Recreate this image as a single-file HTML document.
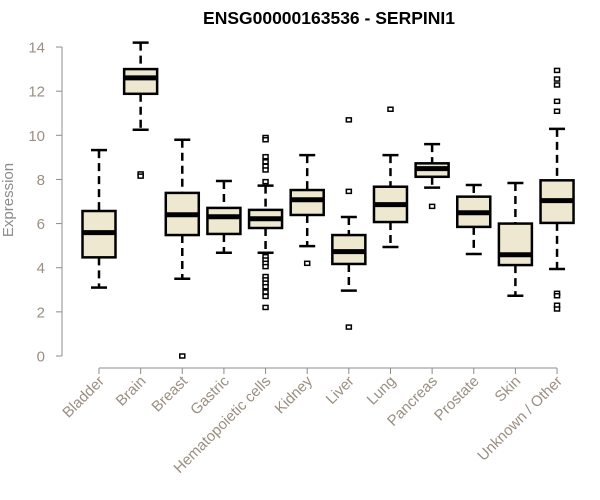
<!DOCTYPE html>
<html><head><meta charset="utf-8"><style>
body{margin:0;background:#fff;}
svg{display:block;font-family:"Liberation Sans",sans-serif;}
</style></head><body>
<svg id="chart" width="600" height="500">
<text x="329" y="24" text-anchor="middle" font-weight="bold" font-size="17.5">ENSG00000163536 - SERPINI1</text>
<text transform="translate(13,200) rotate(-90)" text-anchor="middle" font-size="15" fill="#8c8c8c">Expression</text>
<g id="axes"></g><g id="boxes"></g>
</svg>
<script>
const categories=["Bladder","Brain","Breast","Gastric","Hematopoietic cells","Kidney","Liver","Lung","Pancreas","Prostate","Skin","Unknown / Other"];
const lowWhisker=[3.10,10.25,3.5,4.68,4.68,4.98,2.96,4.94,7.63,4.62,2.73,3.94];
const q1=[4.47,11.88,5.48,5.53,5.8,6.39,4.17,6.07,8.12,5.85,4.12,6.03];
const medians=[5.59,12.6,6.40,6.31,6.22,7.08,4.73,6.86,8.49,6.49,4.59,7.04];
const q3=[6.57,13.0,7.39,6.71,6.62,7.52,5.48,7.67,8.73,7.22,6.0,7.96];
const highWhisker=[9.33,14.2,9.8,7.93,7.72,9.1,6.3,9.1,9.6,7.75,7.84,10.29];
const outliers=[[],[8.25,8.15],[0.0],[],[9.9,9.8,9.03,8.8,8.6,8.43,7.9,4.5,4.35,4.2,4.05,3.6,3.45,3.3,3.14,2.9,2.7,2.2],[4.2],[10.7,7.46,1.31],[11.18],[6.78],[],[],[12.94,12.55,12.28,11.54,11.09,2.84,2.73,2.3,2.13]];
const yTicks=[0,2,4,6,8,10,12,14];
const NS="http://www.w3.org/2000/svg";
const y=v=>356-v*22.07;
const x=i=>99+i*41.64;
function mk(tag,attrs,parent){const e=document.createElementNS(NS,tag);for(const k in attrs)e.setAttribute(k,attrs[k]);parent.appendChild(e);return e;}
const axes=document.getElementById('axes'),boxes=document.getElementById('boxes');
const grey="#8c8c8c";
let yl=mk('line',{x1:62,x2:62,y1:y(14),y2:y(0),stroke:grey},axes);


yTicks.forEach(t=>{
 let l=mk('line',{x1:56,x2:62,y1:y(t),y2:y(t),stroke:grey},axes);
 
 
 let tx=mk('text',{x:45,y:y(t)+5.5,'text-anchor':'end','font-size':15,fill:'#9a8f80'},axes);
 tx.textContent=t;
 
 
});
let xl=mk('line',{x1:x(0),x2:x(11),y1:368,y2:368,stroke:grey},axes);


categories.forEach((c,i)=>{
 let l=mk('line',{x1:x(i),x2:x(i),y1:368,y2:374,stroke:grey},axes);
 
 
 let tx=mk('text',{transform:`translate(${x(i)+6},${382}) rotate(-45)`,'text-anchor':'end','font-size':15,fill:'#9a8f80'},axes);
 tx.textContent=c;
 
 
 const g=mk('g',{},boxes);
 
 
 const cx=x(i),hw=16.5;
 mk('line',{x1:cx,x2:cx,y1:y(highWhisker[i]),y2:y(q3[i]),stroke:'#000','stroke-width':2.5,'stroke-dasharray':'8,5'},g);
 mk('line',{x1:cx,x2:cx,y1:y(q1[i]),y2:y(lowWhisker[i]),stroke:'#000','stroke-width':2.5,'stroke-dasharray':'8,5'},g);
 mk('line',{x1:cx-8,x2:cx+8,y1:y(highWhisker[i]),y2:y(highWhisker[i]),stroke:'#000','stroke-width':2.5},g);
 mk('line',{x1:cx-8,x2:cx+8,y1:y(lowWhisker[i]),y2:y(lowWhisker[i]),stroke:'#000','stroke-width':2.5},g);
 mk('rect',{x:cx-hw,y:y(q3[i]),width:hw*2,height:y(q1[i])-y(q3[i]),fill:'#ede8cf',stroke:'#000','stroke-width':2.5},g);
 mk('line',{x1:cx-hw,x2:cx+hw,y1:y(medians[i]),y2:y(medians[i]),stroke:'#000','stroke-width':5},g);
 outliers[i].forEach(v=>{
  let r=mk('rect',{x:cx-2.5,y:y(v)-2,width:5,height:4,fill:'#fff',stroke:'#000','stroke-width':1.5},g);
  
  
 });
});
</script>
</body></html>
